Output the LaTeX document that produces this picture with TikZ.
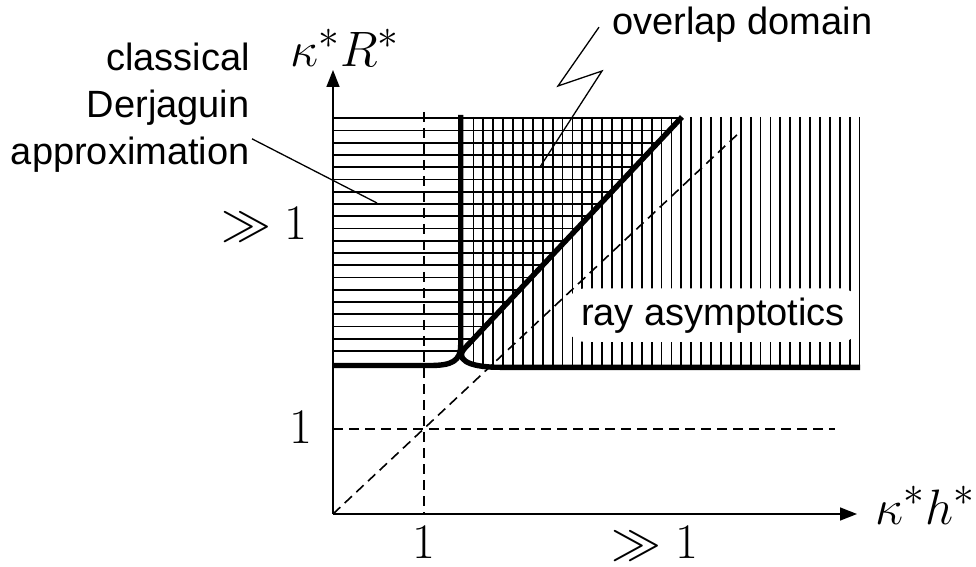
\documentclass[tikz,border=0pt]{standalone}
\usepackage{amsmath,amssymb}
\usepackage[no-math]{fontspec}
\newfontfamily\arial{Liberation Sans}
\usetikzlibrary{arrows.meta}

\begin{document}
\begin{tikzpicture}[
  x=0.5pt, y=-0.5pt,
  axis/.style={line width=0.8pt, -{Triangle[length=8.5pt,width=6.5pt]}},
  hatch/.style={line width=0.9pt},
  guide/.style={line width=0.8pt, dash pattern=on 5pt off 3pt},
  bound/.style={line width=2.7pt},
  ptr/.style={line width=0.65pt},
  lbl/.style={font=\arial\fontsize{19}{23.4}\selectfont, inner sep=0pt},
  mth/.style={font=\fontsize{24.88}{30}\selectfont, inner sep=0pt}]
\useasboundingbox (0,0) rectangle (976,567);
\coordinate (O) at (333,514);
\coordinate (ytip) at (333,70);
\coordinate (xtip) at (857,514);
\coordinate (cusp) at (461.7,351.7);
\coordinate (top) at (682,117);
\begin{scope}
  \clip (333,100) -- (698,100) -- (445,370) -- (333,370) -- cycle;
  \foreach \k in {0,...,19}
    \draw[hatch] (333,118.3+12.25*\k) -- (700,118.3+12.25*\k);
\end{scope}
\begin{scope}
  \clip (461,110) -- (862,110) -- (862,367.3) -- (497,367.3)
        .. controls (472,367.3) and (464,362) .. (cusp) -- cycle;
  \foreach \k in {1,...,40}
    \draw[hatch] (463.5+9.9*\k,117) -- (463.5+9.9*\k,370);
\end{scope}
\draw[guide] (424,112) -- (424,514);
\draw[guide] (333,429) -- (835,429);
\draw[guide] (O) -- (740,132);
\draw[bound] (333,365.5) -- (430,365.5) .. controls (452,365.5) and (460.7,361) .. (460.7,345) -- (460.7,115);
\draw[bound] (top) -- (464,349) .. controls (457,357) and (463,367.3) .. (500,367.3) -- (860,367.3);
\node[lbl, fill=white, rounded corners=9pt, inner xsep=7pt, inner ysep=4.5pt, anchor=base] (ray) at (713,325) {ray asymptotics};
\draw[axis] (O) -- (ytip);
\draw[axis] (O) -- (xtip);
\node[mth, anchor=base west] (ylab) at (290,67) {$\kappa^*R^*$};
\node[mth, anchor=base west] (xlab) at (875,524) {$\kappa^*h^*$};
\node[mth, anchor=base east] (ybig) at (308,240) {$\gg 1$};
\node[mth, anchor=base east] (yone) at (313,443) {$1$};
\node[mth, anchor=base] (xone) at (424,558) {$1$};
\node[mth, anchor=base] (xbig) at (655,558) {$\gg 1$};
\node[lbl, anchor=base west] (ovl) at (612,35) {overlap domain};
\coordinate (ovlend) at (540,167);
\draw[ptr] ([xshift=-6.5pt,yshift=-1pt]ovl.west) -- (558,86) -- (602,71) -- (ovlend);
\node[lbl, align=right, anchor=north east] (derj) at (250,43) {classical\\Derjaguin\\approximation};
\coordinate (derjend) at (377,203);
\draw[ptr] ([shift={(1pt,17pt)}]derj.south east) -- (derjend);
\end{tikzpicture}
\end{document}
